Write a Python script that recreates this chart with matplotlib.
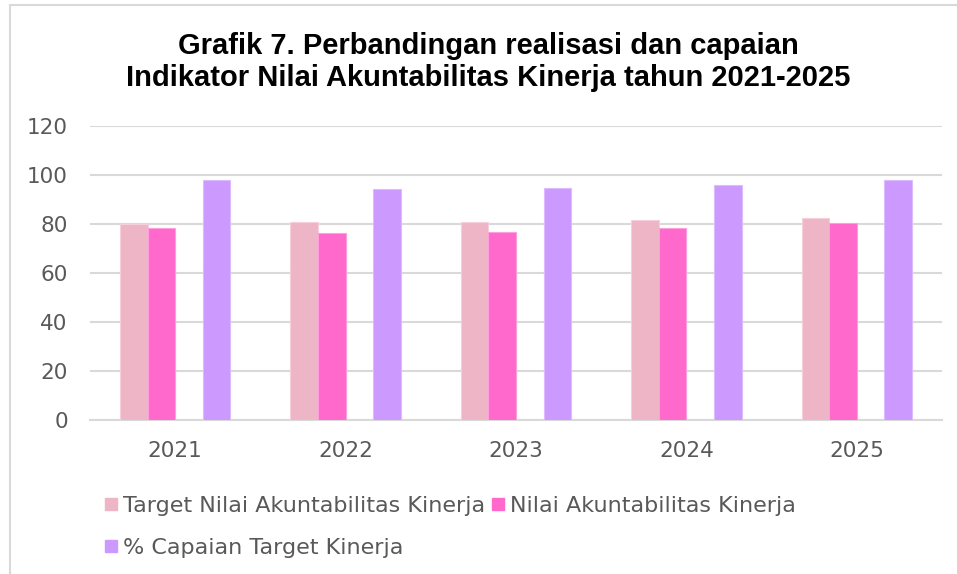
import matplotlib.pyplot as plt
import numpy as np
from matplotlib.patches import Rectangle
from matplotlib.lines import Line2D

years = ["2021", "2022", "2023", "2024", "2025"]
target = [80.0, 80.7, 80.9, 81.6, 82.4]
nilai = [78.5, 76.2, 76.6, 78.2, 80.5]
capaian = [98.1, 94.4, 94.6, 95.8, 98.1]

labels = [
    "Target Nilai Akuntabilitas Kinerja",
    "Nilai Akuntabilitas Kinerja",
    "% Capaian Target Kinerja",
]
colors = ["#EEB5C6", "#FF69CC", "#CC99FF"]
edges = ["#F5D0DB", "#FF9EDD", "#DDBBFF"]

W, H = 957, 574
fig = plt.figure(figsize=(W / 100, H / 100), dpi=100)
ax = fig.add_axes([90 / W, (H - 420) / H, (942 - 90) / W, (420 - 126) / H])

x = np.arange(len(years))
w = 0.162
# four slots per group, third slot stays empty
offsets = [-1.5 * w, -0.5 * w, 1.5 * w]
for vals, off, c, ec, lab in zip([target, nilai, capaian], offsets, colors, edges, labels):
    ax.bar(x + off, vals, width=w, color=c, edgecolor=ec, linewidth=0.8, label=lab, zorder=3)

ax.set_xlim(-0.5, len(years) - 0.5)
ax.set_ylim(0, 120)
ax.set_yticks(range(0, 121, 20))
ax.set_xticks(x)
ax.set_xticklabels(years)
ax.grid(axis="y", color="#D9D9D9", linewidth=1.5, zorder=0)
for s in ["top", "right", "left"]:
    ax.spines[s].set_visible(False)
ax.spines["bottom"].set_color("#D9D9D9")
ax.spines["bottom"].set_linewidth(1.5)
ax.tick_params(length=0, labelsize=15.5, labelcolor="#595959")
ax.tick_params(axis="y", pad=16)
ax.tick_params(axis="x", pad=15)

fam = ["Liberation Sans Narrow", "Liberation Sans", "DejaVu Sans"]
fig.text(488 / W, 1 - 46 / H, "Grafik 7. Perbandingan realisasi dan capaian",
         ha="center", va="center", fontsize=21, fontweight="bold", family=fam)
fig.text(488 / W, 1 - 78 / H, "Indikator Nilai Akuntabilitas Kinerja tahun 2021-2025",
         ha="center", va="center", fontsize=21, fontweight="bold", family=fam)

# legend fills column by column: order so row 1 = target, nilai; row 2 = capaian
order = [0, 2, 1]
handles = [Line2D([], [], marker="s", linestyle="none", markersize=9,
                  markerfacecolor=colors[i], markeredgecolor=colors[i]) for i in order]
leg = fig.legend(handles, [labels[i] for i in order], ncol=2, loc="upper left",
                 bbox_to_anchor=(95 / W, 1 - 487 / H), frameon=False,
                 fontsize=16, handlelength=0.6, handletextpad=0.25,
                 columnspacing=0.3, labelspacing=1.0, borderaxespad=0)
for t in leg.get_texts():
    t.set_color("#595959")

# chart area border (top and left visible)
fig.patches.append(Rectangle((9.5 / W, -0.1), 1.2, 1 - 5.5 / H + 0.1,
                             transform=fig.transFigure, fill=False,
                             edgecolor="#D9D9D9", linewidth=1.5))

fig.savefig("out.png", dpi=100)
